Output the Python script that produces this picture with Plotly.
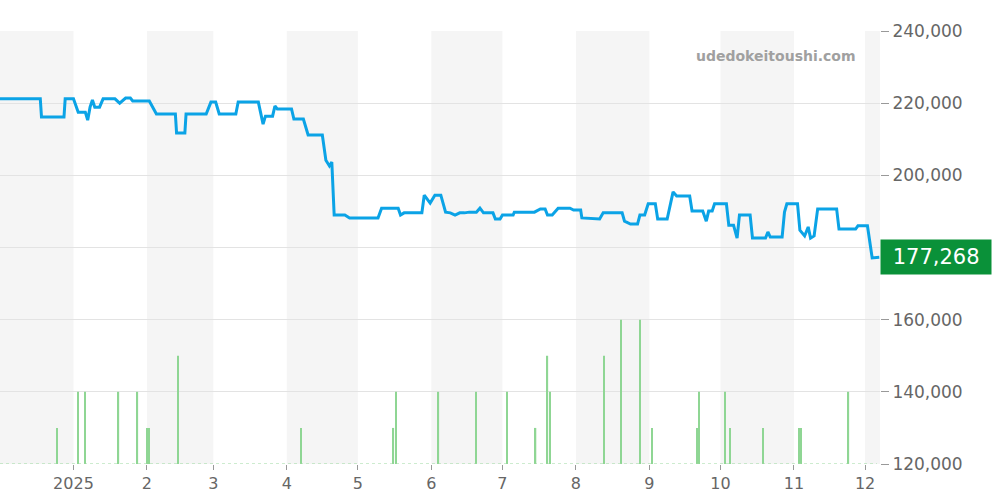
import pandas as pd
import plotly.graph_objects as go

START = pd.Timestamp("2024-12-01")

# price line: days since 2024-12-01, price (thousand yen)
price_days = [0, 17, 17.5, 27, 27.5, 31, 33, 36, 37, 38, 39, 40, 42, 43.5, 48.5, 50.5, 53, 55, 56, 61, 63, 66, 74,
              74.5, 78, 78.5, 87, 89, 91, 92.5, 99.5, 100.5, 109, 111, 112, 115, 116, 117, 123, 124, 128, 130,
              136, 137.5, 139, 140, 141, 145.5, 147.5, 159.5, 161, 168, 169, 170.5, 178, 179, 181.5, 183.5, 186,
              188, 190, 192, 194, 196, 198, 201, 202.5, 204, 208, 209, 211, 212, 216.5, 217, 225.5, 228, 230,
              231, 233, 235.5, 240.5, 242, 245, 245.5, 253, 254.5, 262.5, 263.5, 266, 269, 270, 272, 273.5,
              276.5, 277.5, 281.5, 284, 285.5, 291, 292, 296.5, 298, 299, 300.5, 301.5, 306.5, 307.5, 309.5,
              311, 312, 316.5, 317.5, 323, 324, 325, 330, 331, 332, 336.5, 337.5, 339.5, 341, 342, 343.5, 345,
              353, 354, 361, 362, 366, 367, 368, 371]
price_vals = [221.2, 221.2, 216.2, 216.2, 221.2, 221.2, 217.5, 217.5, 215.3, 218.9, 220.9, 218.9, 218.9, 221.2,
              221.2, 220.0, 221.4, 221.4, 220.6, 220.6, 220.6, 217.0, 217.0, 211.7, 211.7, 217.0, 217.0, 220.3,
              220.3, 217.0, 217.0, 220.3, 220.3, 214.2, 216.4, 216.4, 219.2, 218.4, 218.4, 215.6, 215.6, 211.2,
              211.2, 204.2, 202.6, 203.7, 189.0, 189.0, 188.2, 188.2, 190.9, 190.9, 189.0, 189.6, 189.6, 194.5,
              192.3, 194.5, 194.5, 189.8, 189.6, 189.0, 189.6, 189.6, 189.8, 189.8, 190.9, 189.6, 189.6, 187.9,
              187.9, 189.0, 189.0, 189.8, 189.8, 190.7, 190.7, 189.0, 189.0, 190.9, 190.9, 190.4, 190.4, 188.2,
              187.9, 189.6, 189.6, 187.3, 186.5, 186.5, 189.0, 189.0, 192.1, 192.1, 187.9, 187.9, 195.4, 194.3,
              194.3, 190.1, 190.1, 187.3, 190.1, 190.1, 192.1, 192.1, 186.2, 186.2, 182.6, 189.0, 189.0, 182.6,
              182.6, 184.3, 182.9, 182.9, 189.8, 192.1, 192.1, 184.8, 183.2, 185.7, 182.6, 183.2, 190.7, 190.7,
              185.1, 185.1, 186.0, 186.0, 182.1, 177.1, 177.268]

# sales volume: days since 2024-12-01, count
vol_days = [24, 33, 36, 50, 58, 62, 63, 75, 127, 166, 167, 185, 201, 214, 226, 231, 232, 255, 262, 270, 275,
            294, 295, 306, 308, 322, 337, 338, 358]
vol_vals = [1, 2, 2, 2, 2, 1, 1, 3, 1, 1, 2, 2, 2, 2, 1, 3, 2, 3, 4, 4, 1, 1, 2, 2, 1, 1, 1, 1, 2]

month_starts = pd.date_range("2025-01-01", "2025-12-01", freq="MS")
month_labels = ["2025"] + [str(m) for m in range(2, 13)]

px_x = [START + pd.Timedelta(days=d) for d in price_days]
vol_x = [START + pd.Timedelta(days=d) for d in vol_days]
all_days = pd.date_range(START, START + pd.Timedelta(days=370), freq="D")

fig = go.Figure()

# alternating month shading
bands = [pd.Timestamp("2024-12-01")] + list(month_starts) + [pd.Timestamp("2026-01-01")]
for i in range(0, len(bands) - 1, 2):
    fig.add_shape(type="rect", xref="x", yref="paper", x0=bands[i], x1=bands[i + 1], y0=0, y1=1,
                  fillcolor="#f5f5f5", line_width=0, layer="below")

fig.add_trace(go.Scatter(x=all_days, y=[0] * len(all_days), mode="lines", yaxis="y2",
                         line=dict(color="#9ad89f", width=1, dash="dot"), hoverinfo="skip"))
fig.add_trace(go.Bar(x=vol_x, y=vol_vals, yaxis="y2", width=0.55 * 86400000,
                     marker=dict(color="#8fd694", line_width=0), name="volume"))
fig.add_trace(go.Scatter(x=px_x, y=[v * 1000 for v in price_vals], mode="lines",
                         line=dict(color="#0ba3e6", width=3, shape="linear"), name="price"))

fig.update_layout(
    width=1000, height=500,
    margin=dict(l=0, r=120, t=31, b=36),
    plot_bgcolor="white", paper_bgcolor="white",
    showlegend=False,
    font=dict(family="DejaVu Sans", color="#666"),
    xaxis=dict(range=[START, START + pd.Timedelta(days=371.3)], tickvals=month_starts, ticktext=month_labels,
               showgrid=False, ticks="outside", ticklen=5, tickcolor="#999", tickfont=dict(size=16),
               showline=False, zeroline=False),
    yaxis=dict(side="right", range=[120000, 240000], dtick=20000, tickformat=",d", gridcolor="#e3e3e3",
               ticks="outside", ticklen=8, tickcolor="#999", tickfont=dict(size=17), zeroline=False),
    yaxis2=dict(overlaying="y", range=[0, 12], visible=False),
)

fig.add_annotation(text="<b>udedokeitoushi.com</b>", xref="paper", yref="paper", x=0.975, y=0.965,
                   xanchor="right", yanchor="top", showarrow=False, font=dict(size=14, color="#a0a0a0"))
fig.add_annotation(text=" 177,268 ", xref="paper", yref="y", x=1.0, y=177268, xanchor="left", showarrow=False,
                   font=dict(size=21, color="white"), bgcolor="#0a9139", borderpad=5, xshift=0)

fig.write_html("out.html", config={"displayModeBar": False},
               post_script="document.body.style.margin='0';")
